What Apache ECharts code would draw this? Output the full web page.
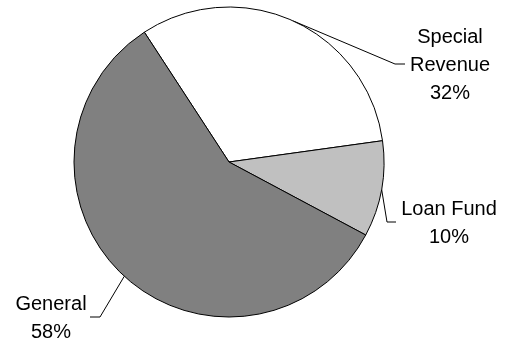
<!DOCTYPE html>
<html>
<head>
<meta charset="utf-8">
<script src="https://cdn.jsdelivr.net/npm/echarts@6/dist/echarts.min.js"></script>
<style>
  html, body { margin: 0; padding: 0; background: #ffffff; }
  #chart { width: 512px; height: 343px; }
</style>
</head>
<body>
<div id="chart"></div>
<script>
// Fund shares, in percent
const categories = ['Special Revenue', 'Loan Fund', 'General'];
const shares = [32, 10, 58];
const sliceColors = ['#ffffff', '#c0c0c0', '#808080'];

// Label placement: text centre, elbow and end of each leader line
const labelSpots = [
  { x: 450, y: 65, elbow: [395, 64], end: [405, 64] },
  { x: 449, y: 223, elbow: [387, 222], end: [396, 222] },
  { x: 51, y: 318, elbow: [100, 317], end: [90, 317] }
];

const chart = echarts.init(document.getElementById('chart'), null, { renderer: 'canvas' });

chart.setOption({
  animation: false,
  backgroundColor: '#ffffff',
  series: [{
    type: 'pie',
    center: [229, 162],
    radius: 155,
    startAngle: 123.1,
    clockwise: true,
    avoidLabelOverlap: false,
    data: categories.map((name, i) => ({
      name: name,
      value: shares[i],
      itemStyle: { color: sliceColors[i] }
    })),
    itemStyle: { borderColor: '#000000', borderWidth: 1 },
    emphasis: { disabled: true },
    label: {
      show: true,
      position: 'outside',
      color: '#000000',
      fontFamily: 'Liberation Sans, Arial, sans-serif',
      fontSize: 20,
      lineHeight: 28,
      align: 'center',
      formatter: p => p.name.replace('Special ', 'Special\n') + '\n' + p.value + '%'
    },
    labelLine: {
      show: true,
      length: 20,
      length2: 10,
      lineStyle: { color: '#000000', width: 1 }
    },
    labelLayout: params => {
      const s = labelSpots[params.dataIndex];
      const start = params.labelLinePoints ? params.labelLinePoints[0] : s.elbow;
      return {
        x: s.x,
        y: s.y,
        align: 'center',
        verticalAlign: 'middle',
        labelLinePoints: [start, s.elbow, s.end]
      };
    }
  }]
});
</script>
</body>
</html>
